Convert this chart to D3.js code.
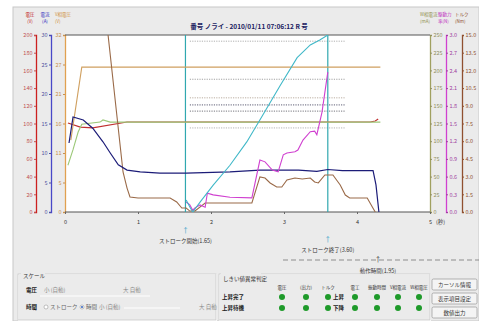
<!DOCTYPE html>
<html><head><meta charset="utf-8">
<script src="https://cdn.jsdelivr.net/npm/d3@7"></script>
<style>
html,body{margin:0;padding:0;background:#fff;}
svg text{font-family:"Noto Sans CJK JP","Noto Sans",sans-serif;}
</style></head><body>
<svg id="c" width="479" height="321"></svg>
<script>
// ---------- data ----------
const xTicks = [0,1,2,3,4,5];
const redTicks = [0,20,40,60,80,100,120,140,160,180,200];
const blueTicks = [0,5,10,15,20,25,30];
const orangeTicks = [0,32/6,64/6,16,128/6,160/6,32];
const oliveTicks = [0,25,50,75,100,125,150,175,200,225,250];
const magTicks = [0,0.3,0.6,0.9,1.2,1.5,1.8,2.1,2.4,2.7,3.0];
const brownTicks = [0,1.5,3,4.5,6,7.5,9,10.5,12,13.5,15];

// 電圧 (red axis)
const redT = [0.04,0.21,0.38,0.85,4.18,4.25,4.29];
const redV = [100.6,96,95,101.7,101.7,102.8,105];
// W相電流 (olive axis) - green
const greenT = [0.04,0.11,0.18,0.23,0.48,0.52,0.62,4.32];
const greenV = [66,88,113,124,127,130,127,127];
// V相電圧 (orange axis) - tan
const tanT = [0.08,0.23,4.32];
const tanV = [13,26.2,26.2];
// 電流 (blue axis) - navy
const navyT = [0.055,0.11,0.25,0.38,0.52,0.62,0.73,0.85,1.03,1.30,1.66,2.26,2.67,3.2,3.45,3.6,3.8,4.22,4.26,4.30];
const navyV = [11.7,16.1,15.6,14.2,11.9,10.0,8.0,7.1,6.8,6.6,6.6,6.8,7.1,7.1,6.9,7.2,7.0,7.0,4.6,0];
// トルク (brown axis)
const brownT = [0.56,0.59,0.795,0.85,0.89,1.0,1.44,1.53,1.60,1.66,1.71,1.78,1.92,2.56,2.67,2.74,2.81,2.90,2.97,3.04,3.15,3.25,3.36,3.42,3.47,3.56,3.67,3.77,3.84,3.90,4.14,4.21,4.25];
const brownV = [16,15.0,3.39,2.03,1.27,1.19,1.19,0.85,0.34,0.34,0.08,0.08,0.76,0.76,2.97,2.88,2.46,2.12,2.12,2.71,2.88,2.80,2.88,2.54,2.46,3.14,3.14,2.29,1.44,1.19,1.19,0.42,0];
// 駆動力 (magenta axis)
const magT = [1.66,1.71,1.75,1.78,1.85,1.92,1.95,2.03,2.26,2.56,2.67,2.74,2.84,2.92,2.99,3.04,3.15,3.19,3.26,3.36,3.42,3.45,3.52,3.60];
const magV = [0.17,0.12,0.03,0.07,0.12,0.08,0.32,0.29,0.25,0.24,0.88,0.85,0.71,0.68,0.97,1.00,1.02,1.05,1.22,1.36,1.37,1.31,1.69,2.37];
// ストローク (olive axis) - cyan
const cyanT = [1.66,1.71,1.75,1.85,2.03,2.26,2.49,2.71,2.95,3.18,3.36,3.49,3.60];
const cyanV = [17,7,0,14,38,66,99,137,179,218,236,243,250];
// thresholds (red axis units)
const thrV = [193,150,129,121,114,95];
const thrC = ["#9a9a9a","#8a8a8a","#a89888","#333350","#50505a","#a0a0a0"];
const thrRange = [1.71,3.84];
const markers = [1.65,3.60];
const markerLabels = ["ストローク開始(1.65)","ストローク終了(3.60)"];
const judgeHeads = ["電圧","(出力)","トルク","電工","振動時間","V相電流","W相電圧"];
const buttons = ["カーソル情報","表示項目設定","数値出力"];

// ---------- drawing ----------
const svg = d3.select("#c");
const L=65,R=430,T=35,B=212;
const x = d3.scaleLinear([0,5],[L,R]);
const yRed = d3.scaleLinear([0,200],[B,T]);
const yBlue = d3.scaleLinear([0,30],[B,T]);
const yOr = d3.scaleLinear([0,32],[B,T]);
const yOl = d3.scaleLinear([0,250],[B,T]);
const yMag = d3.scaleLinear([0,3],[B,T]);
const yBr = d3.scaleLinear([0,15],[B,T]);

svg.append("rect").attr("x",13).attr("y",7).attr("width",466).attr("height",314).attr("fill","#ebebeb").attr("stroke","#c8c8c8");
svg.append("rect").attr("x",L).attr("y",T).attr("width",R-L).attr("height",B-T).attr("fill","#fff");
svg.append("defs").append("clipPath").attr("id","clip").append("rect").attr("x",L).attr("y",T).attr("width",R-L).attr("height",B-T);

const fs = 5.5;
function axis(gen, tx, col, lab, fmt){
  const g = svg.append("g").attr("transform",`translate(${tx},0)`).call(gen.tickSize(2).tickPadding(1.5).tickFormat(fmt));
  g.select(".domain").attr("stroke",col).attr("stroke-width",1.3);
  g.selectAll(".tick line").attr("stroke",lab);
  g.selectAll(".tick text").attr("fill",lab).style("font-size",fs+"px");
  return g;
}
axis(d3.axisLeft(yRed).tickValues(redTicks),36,"#cc2020","#c05050",d3.format("d"));
axis(d3.axisLeft(yBlue).tickValues(blueTicks),51,"#4848c8","#5050a0",d3.format("d"));
axis(d3.axisLeft(yOr).tickValues(orangeTicks),65,"#e0a050","#c89050",d=>Math.round(d));
axis(d3.axisRight(yOl).tickValues(oliveTicks),430,"#a0a060","#909060",d3.format("d"));
axis(d3.axisRight(yMag).tickValues(magTicks),446,"#d040d0","#a040a0",d3.format(".1f"));
axis(d3.axisRight(yBr).tickValues(brownTicks),462,"#905030","#905030",d3.format(".1f"));

// border lines
svg.append("line").attr("x1",L).attr("x2",R).attr("y1",T).attr("y2",T).attr("stroke","#555");
svg.append("line").attr("x1",L).attr("x2",R).attr("y1",B).attr("y2",B).attr("stroke","#555").attr("stroke-width",1.2);

// x axis
const xg = svg.append("g").attr("transform",`translate(0,${B})`).call(d3.axisBottom(x).tickValues(xTicks).tickSize(2).tickPadding(6).tickFormat(d3.format("d")));
xg.select(".domain").remove();
xg.selectAll(".tick line").attr("stroke","#666");
xg.selectAll(".tick text").attr("fill","#333").style("font-size",fs+"px");
svg.append("text").attr("x",x(5)+6).attr("y",B+12).attr("fill","#333").style("font-size",fs+"px").text("(秒)");

// headers
function hdr(xx, anchor, col, l1, l2){
  svg.append("text").attr("x",xx).attr("y",16).attr("fill",col).attr("text-anchor",anchor).style("font-size","4.5px").text(l1);
  svg.append("text").attr("x",xx).attr("y",22.5).attr("fill",col).attr("text-anchor",anchor).style("font-size","4.5px").text(l2);
}
hdr(30,"middle","#c02020","電圧","(V)");
hdr(45,"middle","#3030c0","電流","(A)");
hdr(55,"start","#d09040","V相電圧","(V)");
hdr(420,"start","#909050","W相電流","(mA)");
hdr(438,"start","#c030c0","駆動力","率(N)");
hdr(455,"start","#905030","トルク","(Nm)");

// title
svg.append("text").attr("x",249).attr("y",29).attr("text-anchor","middle").attr("fill","#202060").style("font-size","6.5px").style("font-weight","bold").text("番号 ノライ - 2010/01/11 07:06:12 R  号");

const plot = svg.append("g").attr("clip-path","url(#clip)");
// thresholds
thrV.forEach((v,i)=>{
  plot.append("line").attr("x1",x(thrRange[0])).attr("x2",x(thrRange[1])).attr("y1",yRed(v)).attr("y2",yRed(v))
    .attr("stroke",thrC[i]).attr("stroke-width",0.8).attr("stroke-dasharray","1.2,1.2");
});
// marker lines
markers.forEach(m=>{
  plot.append("line").attr("x1",x(m)).attr("x2",x(m)).attr("y1",T).attr("y2",B).attr("stroke","#30a8b0").attr("stroke-width",1.2);
});
function series(ts, vs, ys, col, w){
  const pts = ts.map((t,i)=>[t,vs[i]]);
  plot.append("path").datum(pts).attr("fill","none").attr("stroke",col).attr("stroke-width",w||1.1)
    .attr("d",d3.line().x(d=>x(d[0])).y(d=>ys(d[1])));
}
series(redT,redV,yRed,"#c03030",1.2);
series(greenT,greenV,yOl,"#9cc878",1.1);
series(tanT,tanV,yOr,"#d0a060",1.1);
series(brownT,brownV,yBr,"#9a6a48",1.1);
series(navyT,navyV,yBlue,"#1c1c78",1.2);
series(magT,magV,yMag,"#d040d0",1.1);
series(cyanT,cyanV,yOl,"#40b8c8",1.1);

// marker annotations
const mk = [[233,243],[242,252]];
markers.forEach((m,i)=>{
  svg.append("text").attr("x",x(m)).attr("y",mk[i][0]).attr("text-anchor","middle").attr("fill","#30a0c8").style("font-size","7px").text("↑");
  svg.append("text").attr("x",x(m)).attr("y",mk[i][1]).attr("text-anchor","middle").attr("fill","#333").style("font-size","5.5px").text(markerLabels[i]);
});
// duration
svg.append("line").attr("x1",283).attr("x2",479).attr("y1",260).attr("y2",260).attr("stroke","#666").attr("stroke-width",0.7).attr("stroke-dasharray","5,3");
svg.append("text").attr("x",378).attr("y",262).attr("text-anchor","middle").attr("fill","#333").style("font-size","7px").text("↑");
svg.append("text").attr("x",378).attr("y",273).attr("text-anchor","middle").attr("fill","#333").style("font-size","5.5px").text("動作時間(1.95)");

// bottom group boxes
function gbox(x0,y0,w,h){
  svg.append("rect").attr("x",x0+0.5).attr("y",y0+0.5).attr("width",w).attr("height",h).attr("fill","none").attr("stroke","#fff");
  svg.append("rect").attr("x",x0).attr("y",y0).attr("width",w).attr("height",h).attr("fill","none").attr("stroke","#c4c4c4").attr("stroke-width",0.7);
}
gbox(18,274,198,46);
gbox(219,274,211,46);
function txt(xx,yy,s,col,extra){
  const t=svg.append("text").attr("x",xx).attr("y",yy).attr("fill",col||"#333").style("font-size","5.5px").text(s);
  if(extra) t.style("font-weight","bold");
  return t;
}
svg.append("rect").attr("x",21).attr("y",273).attr("width",24).attr("height",4).attr("fill","#ebebeb");
txt(23,278,"スケール");
txt(26,292,"電圧","#222",true);
txt(44,292,"小 (自動)","#888");
txt(123,292,"大 自動","#888");
svg.append("line").attr("x1",40).attr("x2",150).attr("y1",296).attr("y2",296).attr("stroke","#fff").attr("stroke-width",1.2);
txt(26,309,"時間","#222",true);
svg.append("circle").attr("cx",46).attr("cy",307).attr("r",2).attr("fill","#fff").attr("stroke","#999").attr("stroke-width",0.6);
txt(50,309,"ストローク","#666");
svg.append("circle").attr("cx",82).attr("cy",307).attr("r",2).attr("fill","#fff").attr("stroke","#999").attr("stroke-width",0.6);
svg.append("circle").attr("cx",82).attr("cy",307).attr("r",1).attr("fill","#3060c0");
txt(86,309,"時間","#666");
txt(99,309,"小 (自動)","#888");
svg.append("line").attr("x1",124).attr("x2",180).attr("y1",308).attr("y2",308).attr("stroke","#fff").attr("stroke-width",1.2);
txt(199,309,"大 自動","#888");

svg.append("rect").attr("x",221).attr("y",273).attr("width",40).attr("height",4).attr("fill","#ebebeb");
txt(223,281,"しきい値異常判定");
const jx = [282,306,328,355,377,398,419];
judgeHeads.forEach((h,i)=>{
  svg.append("text").attr("x",jx[i]).attr("y",289).attr("text-anchor","middle").attr("fill","#333").style("font-size","4.5px").text(h);
});
txt(222,299,"上昇完了","#222",true);
txt(222,310,"上昇待機","#222",true);
txt(333,299,"上昇","#222",true);
txt(333,310,"下降","#222",true);
[297,308].forEach(yy=>{
  jx.forEach(xx=>{
    svg.append("circle").attr("cx",xx).attr("cy",yy).attr("r",3).attr("fill","#1e9a2a");
  });
});
buttons.forEach((b,i)=>{
  const yy = 279+i*14;
  svg.append("rect").attr("x",432).attr("y",yy).attr("width",45).attr("height",11).attr("rx",1.5).attr("fill","#f4f4f4").attr("stroke","#888").attr("stroke-width",0.6);
  svg.append("text").attr("x",454.5).attr("y",yy+7.7).attr("text-anchor","middle").attr("fill","#333").style("font-size","5.5px").text(b);
});
</script></body></html>
